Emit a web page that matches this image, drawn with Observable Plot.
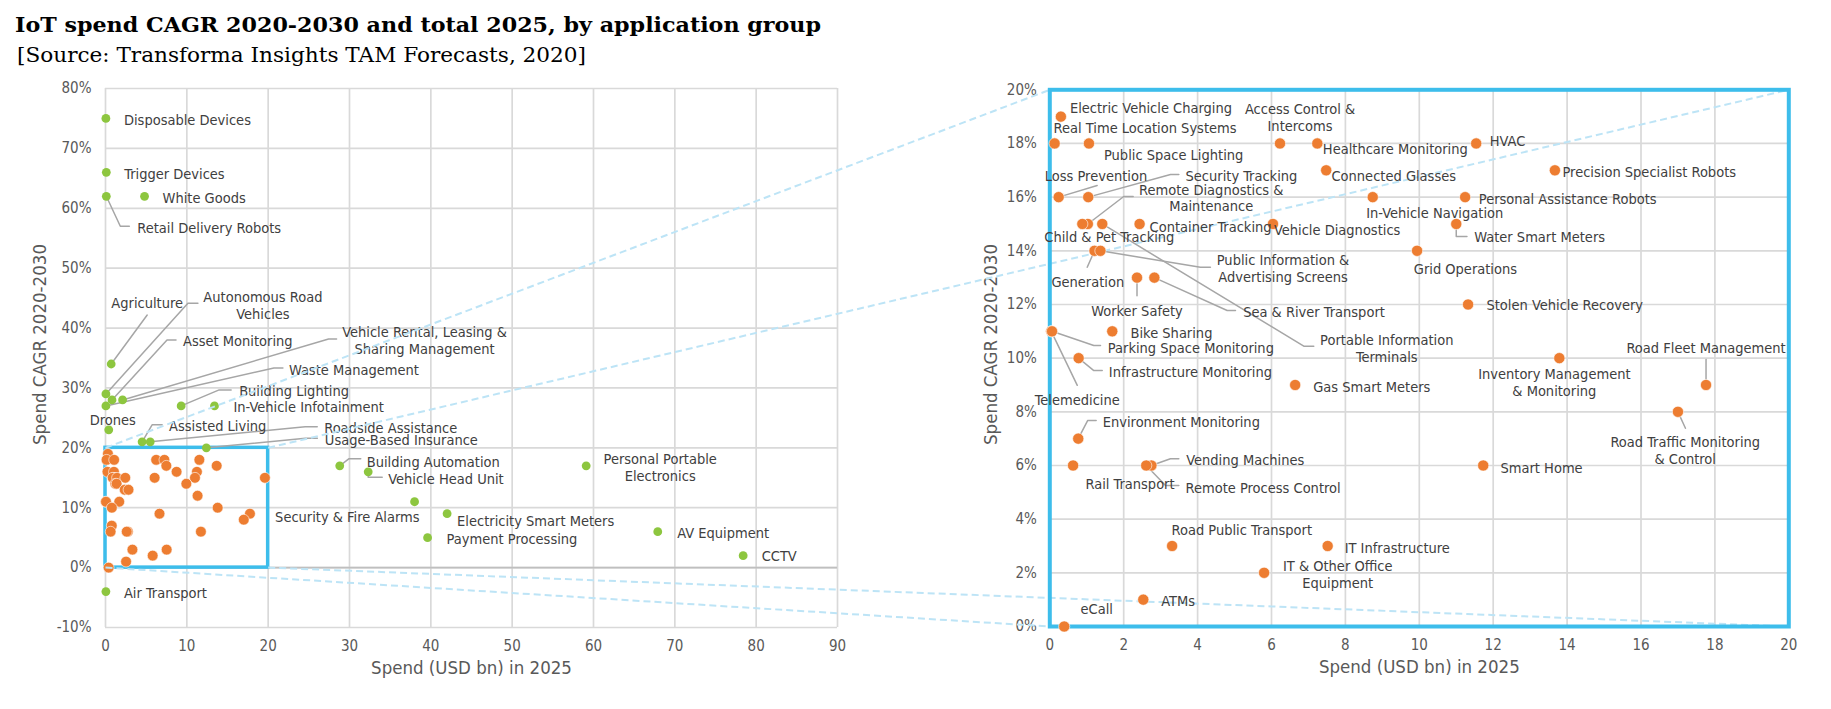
<!DOCTYPE html>
<html><head><meta charset="utf-8">
<script src="https://cdn.jsdelivr.net/npm/d3@7"></script>
<script src="https://cdn.jsdelivr.net/npm/@observablehq/plot@0.6"></script>
<style>
html,body{margin:0;padding:0;background:#fff;overflow:hidden;width:1831px;height:709px}
#wrap{position:relative;width:1831px;height:709px}
#wrap > svg, #wrap > div.p{position:absolute;left:0}
</style></head>
<body><div id="wrap"></div>
<script>
// ---------------- DATA ----------------
const titleText = "IoT spend CAGR 2020-2030 and total 2025, by application group";
const subtitleText = "[Source: Transforma Insights TAM Forecasts, 2020]";
const xTitle = "Spend (USD bn) in 2025";
const yTitle = "Spend CAGR 2020-2030";

// groups outside the zoomed window (green)
const greenNames = ["Disposable Devices","Trigger Devices","Retail Delivery Robots","White Goods","Agriculture",
  "Autonomous Road Vehicles","Asset Monitoring","Vehicle Rental, Leasing & Sharing Management","Waste Management",
  "Building Lighting","In-Vehicle Infotainment","Drones","Assisted Living","Roadside Assistance","Usage-Based Insurance",
  "Building Automation","Vehicle Head Unit","Security & Fire Alarms","Electricity Smart Meters","Payment Processing",
  "Personal Portable Electronics","AV Equipment","CCTV","Air Transport"];
const greenSpend = [0.05,0.1,0.1,4.8,0.7,0.05,0.8,2.1,0.05,9.3,13.4,0.4,4.5,5.5,12.4,28.8,32.3,38.0,42.0,39.6,59.1,67.9,78.4,0.05];
const greenCagr  = [75,66,62,62,34,29,28,28,27,27,27,23,21,21,20,17,16,11,9,5,17,6,2,-4];

// groups inside the zoomed window (orange)
const orangeNames = ["Electric Vehicle Charging","Real Time Location Systems","Public Space Lighting","Access Control & Intercoms",
  "Healthcare Monitoring","HVAC","Connected Glasses","Precision Specialist Robots","Loss Prevention","Security Tracking",
  "In-Vehicle Navigation","Personal Assistance Robots","Remote Diagnostics & Maintenance","Child & Pet Tracking",
  "Portable Information Terminals","Container Tracking","Vehicle Diagnostics","Water Smart Meters","Generation",
  "Public Information & Advertising Screens","Grid Operations","Worker Safety","Sea & River Transport","Stolen Vehicle Recovery",
  "Telemedicine","Parking Space Monitoring","Bike Sharing","Infrastructure Monitoring","Inventory Management & Monitoring",
  "Gas Smart Meters","Road Fleet Management","Road Traffic Monitoring & Control","Environment Monitoring","Rail Transport",
  "Vending Machines","Remote Process Control","Smart Home","Road Public Transport","IT Infrastructure",
  "IT & Other Office Equipment","ATMs","eCall"];
const orangeSpend = [0.3,0.13,1.06,6.23,7.24,11.54,7.48,13.67,0.24,1.04,8.74,11.24,1.03,0.88,1.42,2.43,6.04,11.0,1.21,1.37,9.94,
  2.36,2.83,11.32,0.04,0.06,1.69,0.78,13.79,6.64,17.76,17.0,0.77,0.63,2.75,2.61,11.73,3.31,7.52,5.8,2.53,0.39];
const orangeCagr = [19,18,18,18,18,18,17,17,16,16,16,16,15,15,15,15,15,15,14,14,14,13,13,12,11,11,11,10,10,9,9,8,7,6,6,6,6,3,3,2,1,0];

// extra point shown only in the overview panel
const leftOnlySpend = [19.6];
const leftOnlyCagr = [15];

const xTicksLeft = [0,10,20,30,40,50,60,70,80,90];
const yTicksLeft = [-10,0,10,20,30,40,50,60,70,80];
const xTicksRight = [0,2,4,6,8,10,12,14,16,18,20];
const yTicksRight = [0,2,4,6,8,10,12,14,16,18,20];
const zoomX = [0,20];
const zoomY = [0,20];

// ---------------- LABEL LAYOUT (pixel offsets from each point) ----------------
const layoutLeft = {
  "Disposable Devices": {a:"start", dx:18, dy:1},
  "Trigger Devices": {a:"start", dx:18, dy:1},
  "White Goods": {a:"start", dx:18, dy:1},
  "Retail Delivery Robots": {a:"start", dx:31, dy:31, leader:[[14,30],[23,30]]},
  "Agriculture": {a:"middle", dx:36, dy:-61, leader:[[36,-49]]},
  "Autonomous Road Vehicles": {a:"middle", t:"Autonomous Road\nVehicles", dx:157, dy:-89, leader:[[82,-90.6],[92,-90.6]]},
  "Asset Monitoring": {a:"start", dx:71, dy:-59, leader:[[55,-60],[64,-60]]},
  "Vehicle Rental, Leasing & Sharing Management": {a:"middle", t:"Vehicle Rental, Leasing &\nSharing Management", dx:302, dy:-60, leader:[[206,-61],[214,-61]]},
  "Waste Management": {a:"start", dx:183, dy:-36, leader:[[168,-38],[177,-38]]},
  "Building Lighting": {a:"start", dx:58, dy:-15, leader:[[38,-16],[50,-16]]},
  "In-Vehicle Infotainment": {a:"start", dx:19, dy:1},
  "Drones": {a:"middle", dx:4, dy:-10},
  "Assisted Living": {a:"start", dx:27, dy:-16, leader:[[10,-17],[20,-17]]},
  "Roadside Assistance": {a:"start", dx:174, dy:-14.5, leader:[[155,-15],[167,-15]]},
  "Usage-Based Insurance": {a:"start", dx:118.5, dy:-8, leader:[[99,-9.5],[111,-9.5]]},
  "Building Automation": {a:"start", dx:27, dy:-4.5, leader:[[9,-7],[21,-7]]},
  "Vehicle Head Unit": {a:"start", dx:20, dy:6.5, leader:[[0,5.5],[14,5.5]]},
  "Security & Fire Alarms": {a:"end", dx:5, dy:14.6},
  "Electricity Smart Meters": {a:"start", dx:10, dy:7},
  "Payment Processing": {a:"start", dx:19, dy:0.5},
  "Personal Portable Electronics": {a:"middle", t:"Personal Portable\nElectronics", dx:74, dy:1.3},
  "AV Equipment": {a:"start", dx:19.5, dy:0.5},
  "CCTV": {a:"start", dx:18.5, dy:0},
  "Air Transport": {a:"start", dx:18, dy:0.7}
};
const layoutRight = {
  "Electric Vehicle Charging": {a:"start", dx:9, dy:-9.4},
  "Real Time Location Systems": {a:"start", dx:-1, dy:-16.3},
  "Public Space Lighting": {a:"start", dx:15, dy:11},
  "Access Control & Intercoms": {a:"middle", t:"Access Control &\nIntercoms", dx:20, dy:-26.7},
  "Healthcare Monitoring": {a:"start", dx:5.5, dy:5.3},
  "HVAC": {a:"start", dx:13.6, dy:-3},
  "Connected Glasses": {a:"start", dx:5.3, dy:5},
  "Precision Specialist Robots": {a:"start", dx:7.6, dy:1},
  "Loss Prevention": {a:"end", dx:88.5, dy:-21.6, leader:[[38.5,-11.6]]},
  "Security Tracking": {a:"start", dx:97.3, dy:-21.6, leader:[[82.3,-22.6],[90.6,-22.6]]},
  "In-Vehicle Navigation": {a:"start", dx:-6.5, dy:15},
  "Personal Assistance Robots": {a:"start", dx:13.7, dy:1},
  "Remote Diagnostics & Maintenance": {a:"middle", t:"Remote Diagnostics &\nMaintenance", dx:123.4, dy:-26.4, leader:[[35.9,-27.5],[45.3,-27.5]]},
  "Child & Pet Tracking": {a:"middle", dx:27, dy:12.5},
  "Portable Information Terminals": {a:"middle", t:"Portable Information\nTerminals", dx:284.5, dy:123.8, leader:[[201.5,122.2],[211.5,122.2]]},
  "Container Tracking": {a:"start", dx:10, dy:3},
  "Vehicle Diagnostics": {a:"start", dx:1, dy:5.5},
  "Water Smart Meters": {a:"start", dx:18, dy:13, leader:[[0,12.5],[10.7,12.5]]},
  "Generation": {a:"middle", dx:-6.7, dy:30.7, leader:[[-7.3,16.4]]},
  "Public Information & Advertising Screens": {a:"middle", t:"Public Information &\nAdvertising Screens", dx:182.6, dy:17.4, leader:[[100,16.4],[110,16.4]]},
  "Grid Operations": {a:"start", dx:-3.3, dy:17.4},
  "Worker Safety": {a:"middle", dx:0, dy:33, leader:[[0,18]]},
  "Sea & River Transport": {a:"start", dx:88.8, dy:34, leader:[[72.8,32.9],[81.1,32.9]]},
  "Stolen Vehicle Recovery": {a:"start", dx:18.4, dy:0.3},
  "Telemedicine": {a:"middle", dx:26, dy:68, leader:[[26,54]]},
  "Parking Space Monitoring": {a:"start", dx:55.8, dy:16, leader:[[41.8,14.2],[48.5,14.2]]},
  "Bike Sharing": {a:"start", dx:18.3, dy:1},
  "Infrastructure Monitoring": {a:"start", dx:30.2, dy:13, leader:[[15.2,12.4],[23.6,12.4]]},
  "Inventory Management & Monitoring": {a:"middle", t:"Inventory Management\n& Monitoring", dx:-5, dy:24},
  "Gas Smart Meters": {a:"start", dx:18, dy:1.2},
  "Road Fleet Management": {a:"middle", dx:0, dy:-37.2, leader:[[0,-25.5]]},
  "Road Traffic Monitoring & Control": {a:"middle", t:"Road Traffic Monitoring\n& Control", dx:7.3, dy:38, leader:[[7.5,16.4]]},
  "Environment Monitoring": {a:"start", dx:24.5, dy:-17.2, leader:[[9.5,-18.2],[17.9,-18.2]]},
  "Rail Transport": {a:"start", dx:12.4, dy:17.7},
  "Vending Machines": {a:"start", dx:34.8, dy:-5.7, leader:[[19,-6.7],[27.4,-6.7]]},
  "Remote Process Control": {a:"start", dx:39.3, dy:21.7, leader:[[19.3,20],[32.6,20]]},
  "Smart Home": {a:"start", dx:17.3, dy:1.7},
  "Road Public Transport": {a:"start", dx:-0.6, dy:-16.5},
  "IT Infrastructure": {a:"start", dx:17, dy:1.2},
  "IT & Other Office Equipment": {a:"middle", t:"IT & Other Office\nEquipment", dx:73.6, dy:1},
  "ATMs": {a:"start", dx:18, dy:0.8},
  "eCall": {a:"start", dx:16.3, dy:-17.7}
};

// ---------------- STYLE / GEOMETRY ----------------
const W = 1831, H = 619, TOP = 70;
const FONT = '"DejaVu Sans Condensed","Liberation Sans",sans-serif';
const GREEN = "#8dc63f", ORANGE = "#ed7d31", BLUE = "#3dbdeb", DASH = "#bde4f6";
const GRID = "#d9d9d9", TXT = "#404040", AX = "#595959";
const LBL = 14.5;
const L = {x0:105, x1:837, y0:88, y1:627};
const R = {x0:1049.3, x1:1788.3, y0:89.3, y1:626};

const green = greenNames.map((n,i) => ({name:n, spend:greenSpend[i], cagr:greenCagr[i]}));
const orange = orangeNames.map((n,i) => ({name:n, spend:orangeSpend[i], cagr:orangeCagr[i]}));
const leftOnly = leftOnlySpend.map((s,i) => ({spend:s, cagr:leftOnlyCagr[i]}));

const lx = Plot.scale({x:{type:"linear", domain:[xTicksLeft[0], xTicksLeft.at(-1)], range:[L.x0, L.x1]}});
const ly = Plot.scale({y:{type:"linear", domain:[yTicksLeft[0], yTicksLeft.at(-1)], range:[L.y1 - TOP, L.y0 - TOP]}});
const rx = Plot.scale({x:{type:"linear", domain:zoomX, range:[R.x0, R.x1]}});
const ry = Plot.scale({y:{type:"linear", domain:zoomY, range:[R.y1 - TOP, R.y0 - TOP]}});

function buildLabels(items, layout, sx, sy) {
  const labels = [], leaders = [];
  for (const it of items) {
    const lay = layout[it.name];
    if (!lay) continue;
    const px = sx.apply(it.spend), py = sy.apply(it.cagr);
    labels.push({text: lay.t || it.name, a: lay.a, x: sx.invert(px + lay.dx), y: sy.invert(py + lay.dy)});
    if (lay.leader) {
      [[0,0], ...lay.leader].forEach(p => leaders.push({id: it.name, x: sx.invert(px + p[0]), y: sy.invert(py + p[1])}));
    }
  }
  return {labels, leaders};
}
function labelMarks(labels) {
  return ["start","middle","end"].map(a => Plot.text(labels.filter(d => d.a === a), {
    x:"x", y:"y", text:"text", textAnchor:a, lineAnchor:"middle", lineHeight:1.17, fontSize:LBL, fill:TXT
  }));
}
const pct = d => `${d}%`;

const wrap = document.getElementById("wrap");

// titles
const tsvg = d3.select(wrap).append("svg").attr("width", W).attr("height", 70).style("top","0px");
tsvg.append("text").attr("x",15).attr("y",32).attr("font-family",'"DejaVu Serif",serif').attr("font-weight","bold")
  .attr("font-size",21).attr("textLength",806).attr("lengthAdjust","spacingAndGlyphs").attr("fill","#000").text(titleText);
tsvg.append("text").attr("x",17).attr("y",62).attr("font-family",'"DejaVu Serif",serif')
  .attr("font-size",21).attr("textLength",569).attr("lengthAdjust","spacingAndGlyphs").attr("fill","#000").text(subtitleText);

// left (overview) panel
const LL = buildLabels(green, layoutLeft, lx, ly);
const leftPlot = Plot.plot({
  width: W, height: H,
  marginLeft: L.x0, marginRight: W - L.x1, marginTop: L.y0 - TOP, marginBottom: TOP + H - L.y1,
  x: {domain:[xTicksLeft[0], xTicksLeft.at(-1)], label:null},
  y: {domain:[yTicksLeft[0], yTicksLeft.at(-1)], label:null},
  style: {fontFamily: FONT, background:"transparent", color: AX, overflow:"visible", maxWidth:"none"},
  marks: [
    Plot.gridX({ticks: xTicksLeft, stroke: GRID, strokeOpacity: 1, strokeWidth: 1.7}),
    Plot.gridY({ticks: yTicksLeft, stroke: GRID, strokeOpacity: 1, strokeWidth: 1.7}),
    Plot.ruleY([0], {stroke:"#bfbfbf", strokeWidth:1.7}),
    Plot.axisX({ticks: xTicksLeft, tickSize:0, tickPadding:13, fontSize:15, label:null}),
    Plot.axisY({ticks: yTicksLeft, tickSize:0, tickPadding:14, fontSize:15, tickFormat:pct, label:null}),
    Plot.text([xTitle], {frameAnchor:"bottom", dy:46.3, fontSize:18.5, fill:AX, textAnchor:"middle"}),
    Plot.text([yTitle], {frameAnchor:"left", rotate:-90, dx:39.5 - L.x0, dy:344 - (L.y0+L.y1)/2, fontSize:18.5, fill:AX, textAnchor:"middle", lineAnchor:"middle"}),
    Plot.rect([{x1:zoomX[0], x2:zoomX[1], y1:zoomY[0], y2:zoomY[1]}], {x1:"x1", x2:"x2", y1:"y1", y2:"y2", fill:"none", stroke:BLUE, strokeWidth:3.5}),
    Plot.line(LL.leaders, {x:"x", y:"y", z:"id", stroke:"#a6a6a6", strokeWidth:1.5}),
    Plot.dot(green, {x:"spend", y:"cagr", r:4.4, fill:GREEN}),
    Plot.dot(orange.concat(leftOnly), {x:"spend", y:"cagr", r:5.4, fill:ORANGE, stroke:"#fff", strokeWidth:0.6}),
    ...labelMarks(LL.labels)
  ]
});
const lp = document.createElement("div"); lp.className = "p"; lp.style.top = TOP + "px";
lp.appendChild(leftPlot); wrap.appendChild(lp);

// right (zoomed) panel
const RL = buildLabels(orange, layoutRight, rx, ry);
const corners = [[zoomX[0],zoomY[1]],[zoomX[1],zoomY[1]],[zoomX[0],zoomY[0]],[zoomX[1],zoomY[0]]];
const connectors = corners.map(([cx,cy]) => ({
  x1: rx.invert(lx.apply(cx)), y1: ry.invert(ly.apply(cy)), x2: cx, y2: cy
}));
const rightPlot = Plot.plot({
  width: W, height: H,
  marginLeft: R.x0, marginRight: W - R.x1, marginTop: R.y0 - TOP, marginBottom: TOP + H - R.y1,
  x: {domain: zoomX, label:null},
  y: {domain: zoomY, label:null},
  style: {fontFamily: FONT, background:"transparent", color: AX, overflow:"visible", maxWidth:"none"},
  marks: [
    Plot.gridX({ticks: xTicksRight, stroke: GRID, strokeOpacity: 1, strokeWidth: 1.7}),
    Plot.gridY({ticks: yTicksRight, stroke: GRID, strokeOpacity: 1, strokeWidth: 1.7}),
    Plot.axisX({ticks: xTicksRight, tickSize:0, tickPadding:13, fontSize:15, label:null}),
    Plot.axisY({ticks: yTicksRight, tickSize:0, tickPadding:13, fontSize:15, tickFormat:pct, label:null}),
    Plot.text([xTitle], {frameAnchor:"bottom", dy:46.3, fontSize:18.5, fill:AX, textAnchor:"middle"}),
    Plot.text([yTitle], {frameAnchor:"left", rotate:-90, dx:990.8 - R.x0, dy:344 - (R.y0+R.y1)/2, fontSize:18.5, fill:AX, textAnchor:"middle", lineAnchor:"middle"}),
    Plot.link(connectors, {x1:"x1", y1:"y1", x2:"x2", y2:"y2", stroke:DASH, strokeWidth:2, strokeDasharray:"7,4"}),
    Plot.frame({stroke:BLUE, strokeWidth:4}),
    Plot.line(RL.leaders, {x:"x", y:"y", z:"id", stroke:"#a6a6a6", strokeWidth:1.5}),
    Plot.dot(orange, {x:"spend", y:"cagr", r:5.6, fill:ORANGE, stroke:"#fff", strokeWidth:0.6}),
    ...labelMarks(RL.labels)
  ]
});
const rp = document.createElement("div"); rp.className = "p"; rp.style.top = TOP + "px";
rp.appendChild(rightPlot); wrap.appendChild(rp);
</script>
</body></html>
